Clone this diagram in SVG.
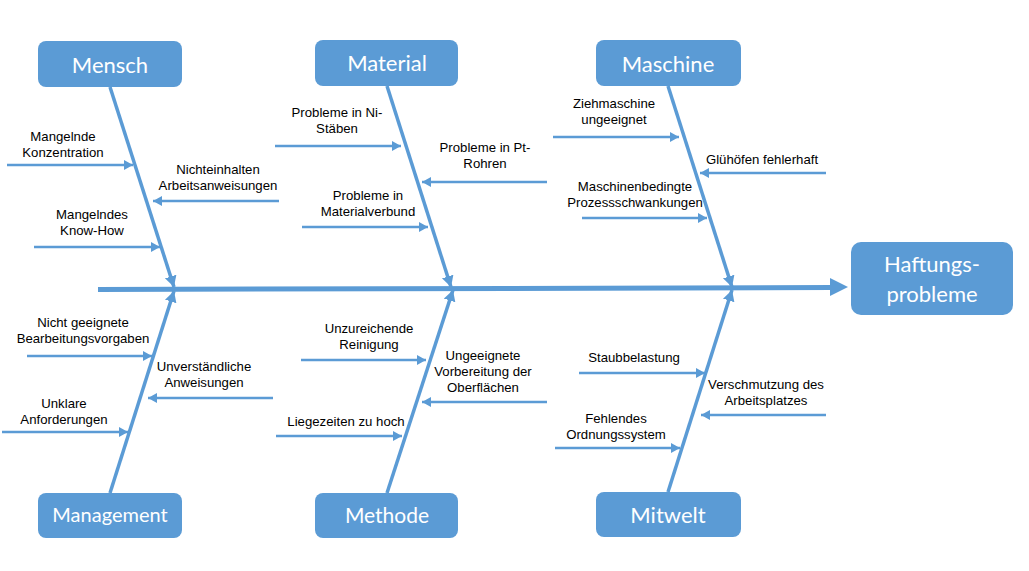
<svg xmlns="http://www.w3.org/2000/svg" width="1029" height="571" viewBox="0 0 1029 571">
<style>
.box{fill:#5B9BD5}
.bt{font-family:Lato,"Open Sans","Liberation Sans",sans-serif;font-size:22px;fill:#fff;text-anchor:middle}
.lt{font-family:"Liberation Sans",Arial,sans-serif;font-size:13.2px;fill:#000;text-anchor:middle}
.bone{stroke:#5B9BD5;stroke-width:3.5;fill:none}
.sub{stroke:#5B9BD5;stroke-width:2.5;fill:none}
</style>
<defs>
<marker id="ah" markerUnits="userSpaceOnUse" markerWidth="12" markerHeight="12" refX="9" refY="5" orient="auto">
<path d="M0,0 L9,5 L0,10 z" fill="#5B9BD5"/>
</marker>
<marker id="ahb" markerUnits="userSpaceOnUse" markerWidth="14" markerHeight="14" refX="11" refY="6" orient="auto">
<path d="M0,0 L11,6 L0,12 z" fill="#5B9BD5"/>
</marker>
</defs>
<g id="connectors">
<line x1="98" y1="289.5" x2="832" y2="287.5" stroke="#5B9BD5" stroke-width="5"/>
<polygon points="830,278 848,287 830,296" fill="#5B9BD5"/>
<line class="bone" x1="110" y1="87" x2="174" y2="287" marker-end="url(#ahb)"/>
<line class="bone" x1="387" y1="86" x2="451" y2="287" marker-end="url(#ahb)"/>
<line class="bone" x1="668" y1="86" x2="732" y2="287" marker-end="url(#ahb)"/>
<line class="bone" x1="110" y1="493" x2="174" y2="291" marker-end="url(#ahb)"/>
<line class="bone" x1="387" y1="493" x2="453" y2="290" marker-end="url(#ahb)"/>
<line class="bone" x1="668" y1="492" x2="732" y2="290" marker-end="url(#ahb)"/>
<line class="sub" x1="7" y1="165" x2="133" y2="165" marker-end="url(#ah)"/>
<line class="sub" x1="279" y1="201" x2="153" y2="201" marker-end="url(#ah)"/>
<line class="sub" x1="34" y1="247" x2="160" y2="247" marker-end="url(#ah)"/>
<line class="sub" x1="275" y1="146" x2="401" y2="146" marker-end="url(#ah)"/>
<line class="sub" x1="547" y1="182" x2="422" y2="182" marker-end="url(#ah)"/>
<line class="sub" x1="302" y1="227" x2="428" y2="227" marker-end="url(#ah)"/>
<line class="sub" x1="553" y1="137" x2="679" y2="137" marker-end="url(#ah)"/>
<line class="sub" x1="826" y1="173" x2="700" y2="173" marker-end="url(#ah)"/>
<line class="sub" x1="582" y1="218" x2="707" y2="218" marker-end="url(#ah)"/>
<line class="sub" x1="27" y1="356" x2="152" y2="356" marker-end="url(#ah)"/>
<line class="sub" x1="273" y1="398" x2="148" y2="398" marker-end="url(#ah)"/>
<line class="sub" x1="2" y1="432" x2="128" y2="432" marker-end="url(#ah)"/>
<line class="sub" x1="301" y1="360" x2="426" y2="360" marker-end="url(#ah)"/>
<line class="sub" x1="547" y1="402" x2="422" y2="402" marker-end="url(#ah)"/>
<line class="sub" x1="276" y1="436" x2="402" y2="436" marker-end="url(#ah)"/>
<line class="sub" x1="579" y1="373" x2="705" y2="373" marker-end="url(#ah)"/>
<line class="sub" x1="826" y1="415" x2="701" y2="415" marker-end="url(#ah)"/>
<line class="sub" x1="555" y1="448" x2="680" y2="448" marker-end="url(#ah)"/>
</g>
<g id="labels">
<text class="lt" x="63" y="141">Mangelnde</text><text class="lt" x="63" y="157">Konzentration</text>
<text class="lt" x="218" y="174">Nichteinhalten</text><text class="lt" x="218" y="190">Arbeitsanweisungen</text>
<text class="lt" x="92" y="219">Mangelndes</text><text class="lt" x="92" y="235">Know-How</text>
<text class="lt" x="337" y="117">Probleme in Ni-</text><text class="lt" x="337" y="133">Stäben</text>
<text class="lt" x="485" y="152">Probleme in Pt-</text><text class="lt" x="485" y="168">Rohren</text>
<text class="lt" x="368" y="200">Probleme in</text><text class="lt" x="368" y="216">Materialverbund</text>
<text class="lt" x="614" y="108">Ziehmaschine</text><text class="lt" x="614" y="124">ungeeignet</text>
<text class="lt" x="762" y="164">Glühöfen fehlerhaft</text>
<text class="lt" x="635" y="191">Maschinenbedingte</text><text class="lt" x="635" y="207">Prozessschwankungen</text>
<text class="lt" x="83" y="327">Nicht geeignete</text><text class="lt" x="83" y="343">Bearbeitungsvorgaben</text>
<text class="lt" x="204" y="371">Unverständliche</text><text class="lt" x="204" y="387">Anweisungen</text>
<text class="lt" x="64" y="408">Unklare</text><text class="lt" x="64" y="424">Anforderungen</text>
<text class="lt" x="369" y="333">Unzureichende</text><text class="lt" x="369" y="349">Reinigung</text>
<text class="lt" x="483" y="360">Ungeeignete</text><text class="lt" x="483" y="376">Vorbereitung der</text><text class="lt" x="483" y="392">Oberflächen</text>
<text class="lt" x="346" y="426">Liegezeiten zu hoch</text>
<text class="lt" x="634" y="362">Staubbelastung</text>
<text class="lt" x="766" y="389">Verschmutzung des</text><text class="lt" x="766" y="405">Arbeitsplatzes</text>
<text class="lt" x="616" y="423">Fehlendes</text><text class="lt" x="616" y="439">Ordnungssystem</text>
</g>
<g id="mensch"><rect class="box" x="38" y="41" width="144" height="46" rx="8"/><text class="bt" x="110" y="73">Mensch</text></g>
<g id="material"><rect class="box" x="315" y="40" width="143" height="46" rx="8"/><text class="bt" x="387" y="71">Material</text></g>
<g id="maschine"><rect class="box" x="596" y="40" width="145" height="46" rx="8"/><text class="bt" x="668" y="72">Maschine</text></g>
<g id="management"><rect class="box" x="38" y="493" width="144" height="45" rx="8"/><text class="bt" x="110" y="522" style="font-size:20px">Management</text></g>
<g id="methode"><rect class="box" x="315" y="493" width="143" height="45" rx="8"/><text class="bt" x="387" y="523" style="font-size:21px">Methode</text></g>
<g id="mitwelt"><rect class="box" x="596" y="492" width="145" height="45" rx="8"/><text class="bt" x="668" y="523">Mitwelt</text></g>
<g id="haftungsprobleme"><rect class="box" x="851" y="242" width="162" height="73" rx="10"/><text class="bt" x="932" y="272">Haftungs-</text><text class="bt" x="932" y="302">probleme</text></g>
</svg>
